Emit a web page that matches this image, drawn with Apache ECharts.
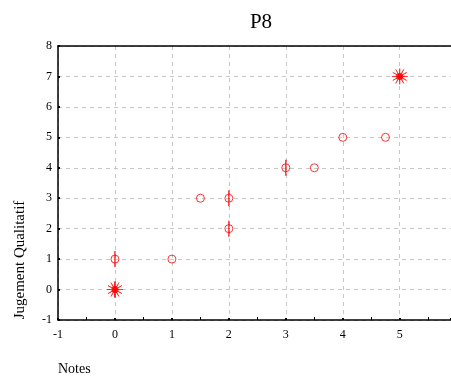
<!DOCTYPE html>
<html>
<head>
<meta charset="utf-8">
<script src="https://cdn.jsdelivr.net/npm/echarts@6/dist/echarts.min.js"></script>
<style>
  html, body { margin: 0; padding: 0; background: #fff; }
  #chart { width: 451px; height: 379px; }
</style>
</head>
<body>
<div id="chart"></div>
<script>
// data
const circlePoints = [[0, 1], [1, 1], [1.5, 3], [2, 3], [2, 2], [3, 4], [3.5, 4], [4, 5], [4.75, 5]];
const starPoints = [[0, 0], [5, 7]];
const barPoints = [[0, 1], [2, 3], [2, 2], [3, 4], [0, 0]];

const red = "#ff0000";
const font = "Liberation Serif";

// burst shaped symbol
function burstPath(n, ro, ri) {
	let d = "";
	for (let i = 0; i < n * 2; i++) {
		const r = i % 2 === 0 ? ro : ri;
		const a = (Math.PI * i) / n;
		const x = (10 + r * Math.cos(a)).toFixed(2);
		const y = (10 + r * Math.sin(a)).toFixed(2);
		d += (i === 0 ? "M" : "L") + x + " " + y + " ";
	}
	return "path://" + d + "Z";
}

const chart = echarts.init(document.getElementById("chart"));
const option = {
	animation: false,
	title: {
		text: "P8",
		left: 256,
		top: 7,
		textAlign: "center",
		textStyle: { fontFamily: font, fontSize: 21, fontWeight: "normal", color: "#000" }
	},
	grid: { left: 58, right: 0, top: 46, bottom: 59 },
	xAxis: [
		{
			type: "value",
			min: -1,
			max: 5.9,
			interval: 1,
			axisLine: { onZero: false, lineStyle: { color: "#000", width: 1.5 } },
			axisTick: { show: true, inside: true, length: 2, lineStyle: { color: "#000", width: 2 } },
			minorTick: { show: true, splitNumber: 2, length: 3, lineStyle: { color: "#000" } },
			axisLabel: { showMaxLabel: false, color: "#000", fontFamily: font, fontSize: 12, margin: 9 },
			splitLine: { show: true, lineStyle: { color: "#c8c8c8", type: [4, 4] } }
		},
		{
			type: "value",
			position: "top",
			min: -1,
			max: 5.9,
			axisLine: { show: true, onZero: false, lineStyle: { color: "#000", width: 1.5 } },
			axisTick: { show: false },
			axisLabel: { show: false },
			splitLine: { show: false }
		}
	],
	yAxis: {
		type: "value",
		min: -1,
		max: 8,
		interval: 1,
		axisLine: { onZero: false, lineStyle: { color: "#000", width: 1.5 } },
		axisTick: { show: true, inside: true, length: 2, lineStyle: { color: "#000", width: 2 } },
		axisLabel: { color: "#000", fontFamily: font, fontSize: 12, margin: 6 },
		splitLine: { show: true, lineStyle: { color: "#c8c8c8", type: [4, 4] } }
	},
	graphic: [
		{
			type: "text",
			x: 20,
			y: 260,
			rotation: Math.PI / 2,
			style: {
				text: "Jugement Qualitatif",
				font: "15px " + font,
				fill: "#000",
				align: "center",
				verticalAlign: "middle"
			}
		},
		{
			type: "text",
			left: 58,
			top: 362,
			style: { text: "Notes", font: "14px " + font, fill: "#000" }
		}
	],
	series: [
		{
			type: "scatter",
			data: barPoints,
			symbol: "rect",
			symbolSize: [1.5, 16],
			itemStyle: { color: red },
			z: 3
		},
		{
			type: "scatter",
			data: circlePoints,
			symbol: "circle",
			symbolSize: 8,
			itemStyle: { color: "rgba(255,255,255,0)", borderColor: red, borderWidth: 1 },
			z: 4
		},
		{
			type: "scatter",
			data: starPoints,
			symbol: burstPath(12, 9, 1),
			symbolSize: 16,
			itemStyle: { color: red, borderColor: red, borderWidth: 0.7 },
			z: 4
		},
		{
			type: "scatter",
			data: starPoints,
			symbol: "circle",
			symbolSize: 7,
			itemStyle: { color: red },
			z: 5
		}
	]
};
chart.setOption(option);
</script>
</body>
</html>
